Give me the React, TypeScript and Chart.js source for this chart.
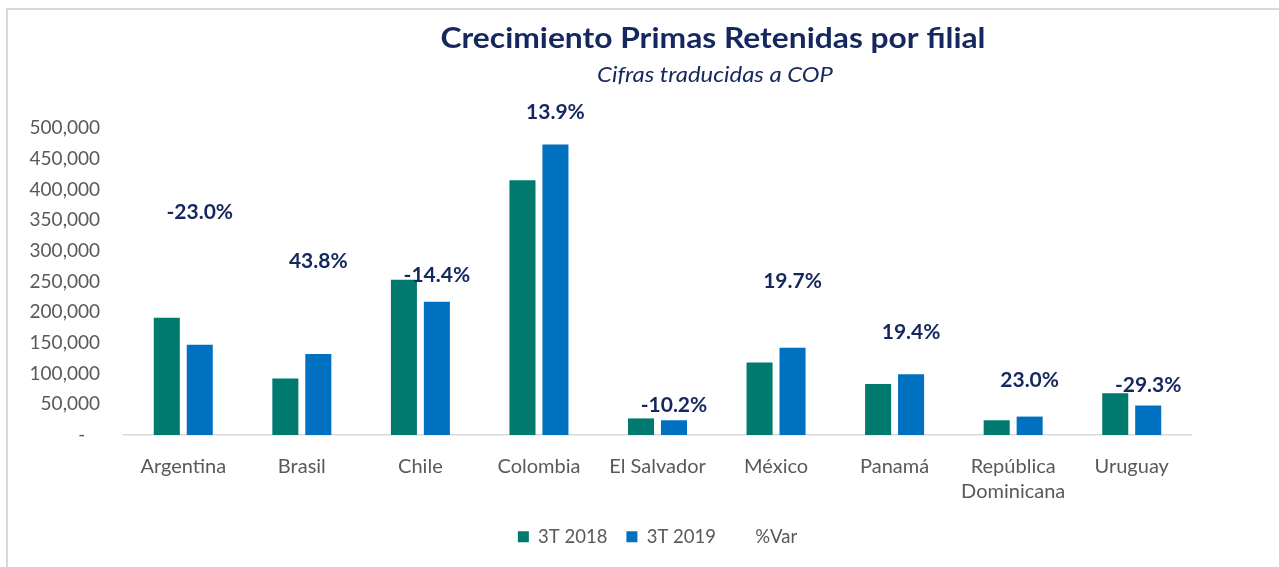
import React, { useEffect, useRef } from "react";
import { Chart, registerables } from "chart.js";

Chart.register(...registerables);

const categories: (string | string[])[] = [
  "Argentina",
  "Brasil",
  "Chile",
  "Colombia",
  "El Salvador",
  "México",
  "Panamá",
  ["República", "Dominicana"],
  "Uruguay",
];
const primas2018 = [191000, 92000, 253000, 415000, 27000, 118000, 83000, 24000, 68000];
const primas2019 = [147000, 132000, 217000, 473000, 24000, 142000, 99000, 30000, 48000];
const varPct = [-23.0, 43.8, -14.4, 13.9, -10.2, 19.7, 19.4, 23.0, -29.3];
// height (in the primary axis' units) where each %Var label sits
const varLabelAnchor = [363000, 283000, 260000, 525000, 48000, 251000, 168000, 90000, 81000];

const TITLE = "Crecimiento Primas Retenidas por filial";
const SUBTITLE = "Cifras traducidas a COP";
const NAVY = "#14275E";
const GRAY = "#595959";
const FONT = "Lato, 'Noto Sans', sans-serif";

function fitText(ctx: any, text: string, cx: number, cy: number, targetW: number) {
  const w = ctx.measureText(text).width;
  const s = targetW / w;
  ctx.save();
  ctx.translate(cx, cy);
  ctx.scale(s, 1);
  ctx.fillText(text, 0, 0);
  ctx.restore();
}

const titlePlugin = {
  id: "titlePlugin",
  afterDraw(chart: any) {
    const ctx = chart.ctx;
    ctx.save();
    ctx.fillStyle = NAVY;
    ctx.textAlign = "center";
    ctx.textBaseline = "middle";
    ctx.font = `bold 28px ${FONT}`;
    fitText(ctx, TITLE, 713, 39, 545);
    ctx.font = `italic 21px ${FONT}`;
    fitText(ctx, SUBTITLE, 715, 75, 236);
    ctx.restore();
  },
};

const varLabelPlugin = {
  id: "varLabelPlugin",
  afterDatasetsDraw(chart: any) {
    const ctx = chart.ctx;
    const blueMeta = chart.getDatasetMeta(1);
    const yScale = chart.scales.y;
    ctx.save();
    ctx.fillStyle = NAVY;
    ctx.font = `bold 21px ${FONT}`;
    ctx.textAlign = "center";
    ctx.textBaseline = "middle";
    varPct.forEach((v, i) => {
      const x = blueMeta.data[i].x;
      const y = yScale.getPixelForValue(varLabelAnchor[i]);
      ctx.fillText(v.toFixed(1) + "%", x, y);
    });
    ctx.restore();
  },
};

export default function App() {
  const ref = useRef<HTMLCanvasElement | null>(null);

  useEffect(() => {
    if (!ref.current) return;
    const chart = new Chart(ref.current, {
      type: "bar",
      data: {
        labels: categories as any,
        datasets: [
          {
            label: "3T 2018",
            data: primas2018,
            backgroundColor: "#007A6E",
            categoryPercentage: 0.556,
            barPercentage: 0.79,
          },
          {
            label: "3T 2019",
            data: primas2019,
            backgroundColor: "#0070C0",
            categoryPercentage: 0.556,
            barPercentage: 0.79,
          },
          {
            type: "line" as any,
            label: "%Var",
            data: varLabelAnchor,
            showLine: false,
            pointRadius: 0,
            pointHoverRadius: 0,
            backgroundColor: "rgba(0,0,0,0)",
            borderColor: "rgba(0,0,0,0)",
            borderWidth: 0,
          } as any,
        ],
      },
      options: {
        responsive: false,
        animation: false,
        events: [],
        layout: { padding: { top: 128, left: 10, right: 88, bottom: 11 } },
        scales: {
          x: {
            grid: { display: false, drawTicks: false },
            border: { display: true, color: "#D9D9D9", width: 1.5 },
            ticks: {
              color: GRAY,
              font: { family: FONT, size: 20, lineHeight: 1.25 },
              padding: 19,
              maxRotation: 0,
              autoSkip: false,
            },
            afterFit(scale: any) {
              scale.height = 73.5;
            },
          },
          y: {
            min: 0,
            max: 500000,
            grid: { display: false, drawTicks: false },
            border: { display: false },
            ticks: {
              stepSize: 50000,
              color: GRAY,
              font: { family: FONT, size: 19 },
              padding: 24,
              callback: (v: any) => (v === 0 ? "-   " : Number(v).toLocaleString("en-US")),
            },
            afterFit(scale: any) {
              scale.width = 114;
            },
          },
        },
        plugins: {
          title: { display: false },
          tooltip: { enabled: false },
          legend: {
            display: true,
            position: "bottom",
            fullSize: false,
            labels: {
              color: GRAY,
              font: { family: FONT, size: 18.5 },
              boxWidth: 11,
              boxHeight: 11,
              padding: 19,
            },
          },
        },
      },
      plugins: [titlePlugin, varLabelPlugin],
    });
    return () => chart.destroy();
  }, []);

  return (
    <div
      style={{
        position: "fixed",
        left: 0,
        top: 0,
        width: 1279,
        height: 567,
        overflow: "hidden",
        background: "#fff",
      }}
    >
      <div
        style={{
          position: "absolute",
          left: 6,
          top: 8,
          width: 1300,
          height: 600,
          borderLeft: "2px solid #D9D9D9",
          borderTop: "2px solid #D9D9D9",
        }}
      />
      <canvas
        ref={ref}
        width={1279}
        height={567}
        style={{ position: "absolute", left: 0, top: 0 }}
      />
    </div>
  );
}
